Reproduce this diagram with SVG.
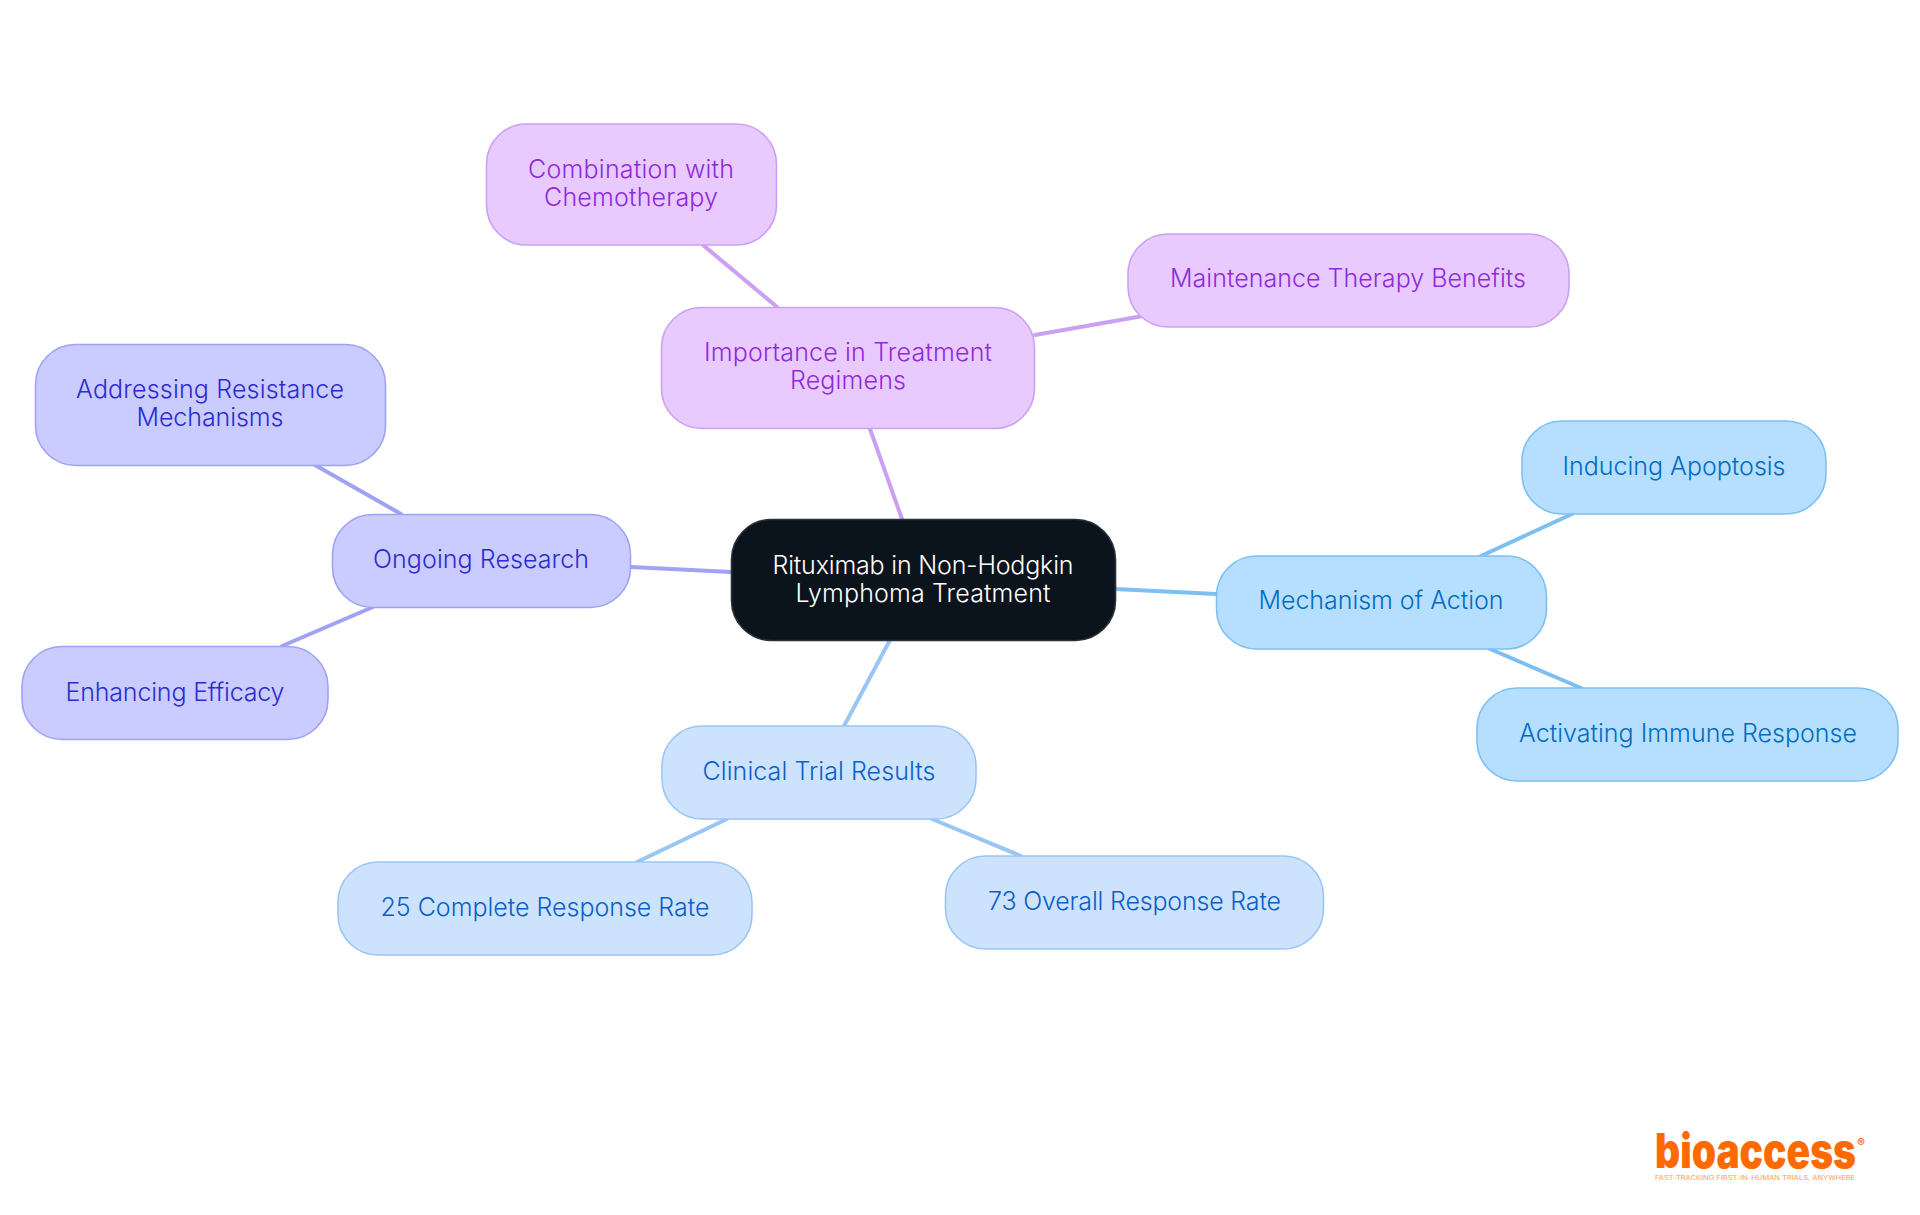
<svg xmlns="http://www.w3.org/2000/svg" width="1920" height="1215" viewBox="0 0 1920 1215">
<style>
text{font-family:"Inter","Noto Sans","Liberation Sans",sans-serif;font-size:25px;font-weight:300;text-anchor:middle}
.e{fill:none;stroke-width:4;stroke-linecap:round}
.n{stroke-width:1.6}
.root rect{fill:#0b131c;stroke:#2b3138}.root text{fill:#fff}
.pu rect{fill:#e8caff;stroke:#cba0f2}.pu text{fill:#8f2bd9}
.bl rect{fill:#b6dfff;stroke:#7cc0f3}.bl text{fill:#026cbf}
.lb rect{fill:#cde3fd;stroke:#9ac6f5}.lb text{fill:#0b5fc9}
.in rect{fill:#cacbff;stroke:#a0a2f3}.in text{fill:#2c2cce}
.ep{stroke:#cba0f2}.eb{stroke:#7cc0f3}.el{stroke:#9ac6f5}.ei{stroke:#a0a2f3}
.logo{fill:#ff6a00;text-anchor:start}
</style>
<g id="connectors">
<path class="e ep" d="M870 429L902 519"/>
<path class="e ep" d="M703 245L777 307"/>
<path class="e ep" d="M1035 335L1143 316"/>
<path class="e ei" d="M631 567L731 572"/>
<path class="e ei" d="M315 465L401 514"/>
<path class="e ei" d="M282 646L373 607"/>
<path class="e eb" d="M1115 589L1216 594"/>
<path class="e eb" d="M1481 556L1572 514"/>
<path class="e eb" d="M1490 649L1581 688"/>
<path class="e el" d="M890 640L844 726"/>
<path class="e el" d="M727 819L637 862"/>
<path class="e el" d="M932 819L1021 856"/>
</g>
<g id="n-root" class="root"><rect class="n" x="731.500" y="519.500" width="384" height="121" rx="40"/><text x="923" y="574" textLength="301">Rituximab in Non-Hodgkin</text><text x="923" y="602" textLength="255">Lymphoma Treatment</text></g>
<g id="n-importance" class="pu"><rect class="n" x="661.500" y="307.500" width="373" height="121" rx="40"/><text x="848" y="361" textLength="288">Importance in Treatment</text><text x="848" y="389" textLength="116">Regimens</text></g>
<g id="n-combination" class="pu"><rect class="n" x="486.500" y="124" width="290" height="121" rx="40"/><text x="631" y="178" textLength="206">Combination with</text><text x="631" y="206" textLength="174">Chemotherapy</text></g>
<g id="n-maintenance" class="pu"><rect class="n" x="1128" y="234" width="441" height="93" rx="40"/><text x="1348" y="287" textLength="356">Maintenance Therapy Benefits</text></g>
<g id="n-ongoing" class="in"><rect class="n" x="332.500" y="514.500" width="298" height="93" rx="40"/><text x="481" y="568" textLength="216">Ongoing Research</text></g>
<g id="n-addressing" class="in"><rect class="n" x="35.500" y="344.500" width="350" height="121" rx="40"/><text x="210" y="398" textLength="268">Addressing Resistance</text><text x="210" y="426" textLength="147">Mechanisms</text></g>
<g id="n-enhancing" class="in"><rect class="n" x="22" y="646.500" width="306" height="93" rx="40"/><text x="175" y="701" textLength="219">Enhancing Efficacy</text></g>
<g id="n-mechanism" class="bl"><rect class="n" x="1216.500" y="556" width="330" height="93" rx="40"/><text x="1381" y="609" textLength="245">Mechanism of Action</text></g>
<g id="n-inducing" class="bl"><rect class="n" x="1522" y="421" width="304" height="93" rx="40"/><text x="1674" y="475" textLength="223">Inducing Apoptosis</text></g>
<g id="n-activating" class="bl"><rect class="n" x="1477" y="688" width="421" height="93" rx="40"/><text x="1688" y="742" textLength="338">Activating Immune Response</text></g>
<g id="n-clinical" class="lb"><rect class="n" x="662" y="726" width="314" height="93" rx="40"/><text x="819" y="780" textLength="233">Clinical Trial Results</text></g>
<g id="n-complete" class="lb"><rect class="n" x="338" y="862" width="414" height="93" rx="40"/><text x="545" y="916" textLength="329">25 Complete Response Rate</text></g>
<g id="n-overall" class="lb"><rect class="n" x="945.500" y="856" width="378" height="93" rx="40"/><text x="1134.500" y="910" textLength="293">73 Overall Response Rate</text></g>
<g id="logo">
<text class="logo" x="1655" y="1168" textLength="201" lengthAdjust="spacingAndGlyphs" style="font-size:48px;font-weight:900">bioaccess</text>
<text class="logo" x="1857" y="1147" style="font-size:12px;font-weight:600">®</text>
<text class="logo" x="1655" y="1179.500" textLength="200" lengthAdjust="spacingAndGlyphs" style="font-size:5.500px;font-weight:400;fill:#ff9a55">FAST-TRACKING FIRST-IN-HUMAN TRIALS, ANYWHERE</text>
</g>
</svg>
